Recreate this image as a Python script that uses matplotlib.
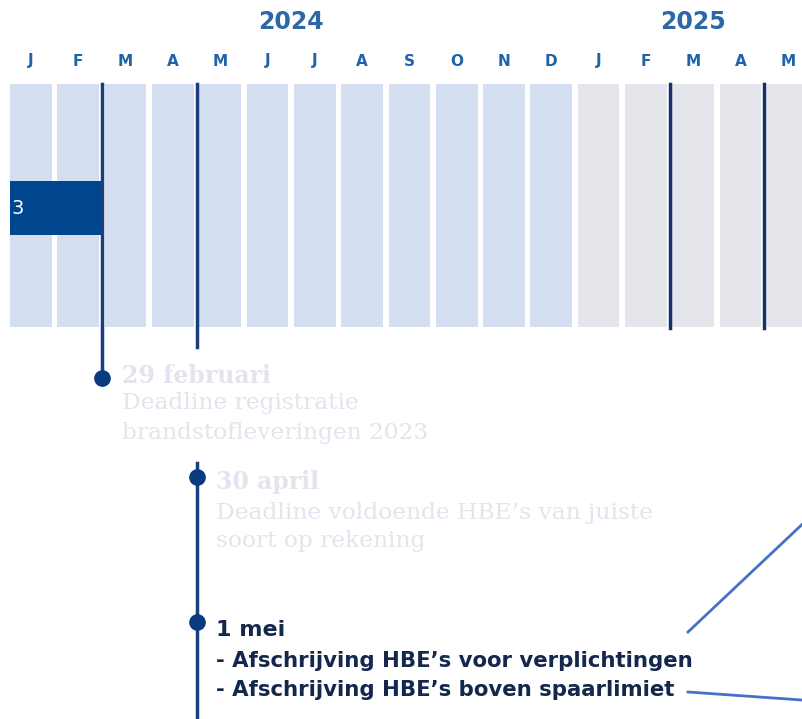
import matplotlib.pyplot as plt

# timeline: one column per month, Jan 2024 .. May 2025
months = ['J', 'F', 'M', 'A', 'M', 'J', 'J', 'A', 'S', 'O', 'N', 'D',
          'J', 'F', 'M', 'A', 'M']
years = ['2024', '2025']
year_pos = [5.5, 14.0]
n_2024 = 12

# events, x = month index (end of month -> +0.5)
event_x = [1.5, 3.5, 3.5]
event_title = ['29 februari', '30 april', '1 mei']
event_body = [
    ['Deadline registratie', 'brandstofleveringen 2023'],
    ["Deadline voldoende HBE\u2019s van juiste", 'soort op rekening'],
    ["- Afschrijving HBE\u2019s voor verplichtingen",
     "- Afschrijving HBE\u2019s boven spaarlimiet"],
]
event_faded = [True, True, False]

deadline_2025 = [13.5, 15.5]
bar_label = '3'  # tail of the cropped "2023" label
bar_start, bar_end = -0.44, 1.5

NAVY = '#1b3f7c'
LIGHT = '#d3def1'
GREY = '#e5e6eb'
MONTH_C = '#2163a8'
FADED = '#e2e5ee'
TEXT_DARK = '#14284d'

fig = plt.figure(figsize=(8.03, 7.19), dpi=100)
ax = fig.add_axes([0, 0, 1, 1])
ax.set_xlim(-31 / 47.3, 772 / 47.3)
ax.set_ylim(719, 0)
ax.axis('off')

col_top, col_bot = 84, 327
colors = [LIGHT] * n_2024 + [GREY] * (len(months) - n_2024)
ax.bar(range(len(months)), col_bot - col_top, bottom=col_top, width=0.88,
       color=colors, zorder=1)

for i, m in enumerate(months):
    ax.text(i, 61, m, ha='center', va='center', fontsize=11,
            fontweight='bold', color=MONTH_C)
for y, xp in zip(years, year_pos):
    ax.text(xp, 22, y, ha='center', va='center', fontsize=17,
            fontweight='bold', color='#2d67a6')

# 2023 bar (cut at the left edge in the source)
ax.barh(208, bar_end - bar_start, left=bar_start, height=54,
        color='#00468f', zorder=2)
ax.text(bar_start + 0.02, 208, bar_label, ha='left', va='center',
        fontsize=14, color='white', zorder=3)

# deadline lines
ax.plot([event_x[0]] * 2, [col_top, 378], color=NAVY, lw=2.5, zorder=3)
ax.plot([event_x[1]] * 2, [col_top, 347], color=NAVY, lw=2.5, zorder=3)
ax.plot([event_x[1]] * 2, [463, 719], color=NAVY, lw=2.5, zorder=3)
for x in deadline_2025:
    ax.plot([x, x], [col_top, 328], color='#15306a', lw=2.5, zorder=3)

dot_y = [378, 477, 622]
title_y = [376, 482, 630]
body_y = [[403, 433], [513, 541], [661, 690]]
for x, y in zip(event_x, dot_y):
    ax.plot(x, y, 'o', ms=11, color='#0a3a7e', zorder=4)

for x, ty, t, body, by, faded in zip(event_x, title_y, event_title,
                                     event_body, body_y, event_faded):
    tx = x + 0.42
    if faded:
        ax.text(tx, ty, t, ha='left', va='center', fontsize=17,
                fontweight='bold', family='DejaVu Serif', color=FADED)
        for line, ly in zip(body, by):
            ax.text(tx, ly, line, ha='left', va='center',
                    fontsize=16.8, family='DejaVu Serif', color=FADED)
    else:
        ax.text(tx, ty, t, ha='left', va='center', fontsize=16,
                fontweight='bold', color=TEXT_DARK)
        for line, ly in zip(body, by):
            ax.text(tx, ly, line, ha='left', va='center', fontsize=15.3,
                    fontweight='bold', color=TEXT_DARK)

# callout connectors
ax.plot([13.89, 17.5], [632, 471], color='#4472c4', lw=2, zorder=5)
ax.plot([13.89, 17.5], [692, 704], color='#4472c4', lw=2, zorder=5)

fig.savefig('out.png', dpi=100)
